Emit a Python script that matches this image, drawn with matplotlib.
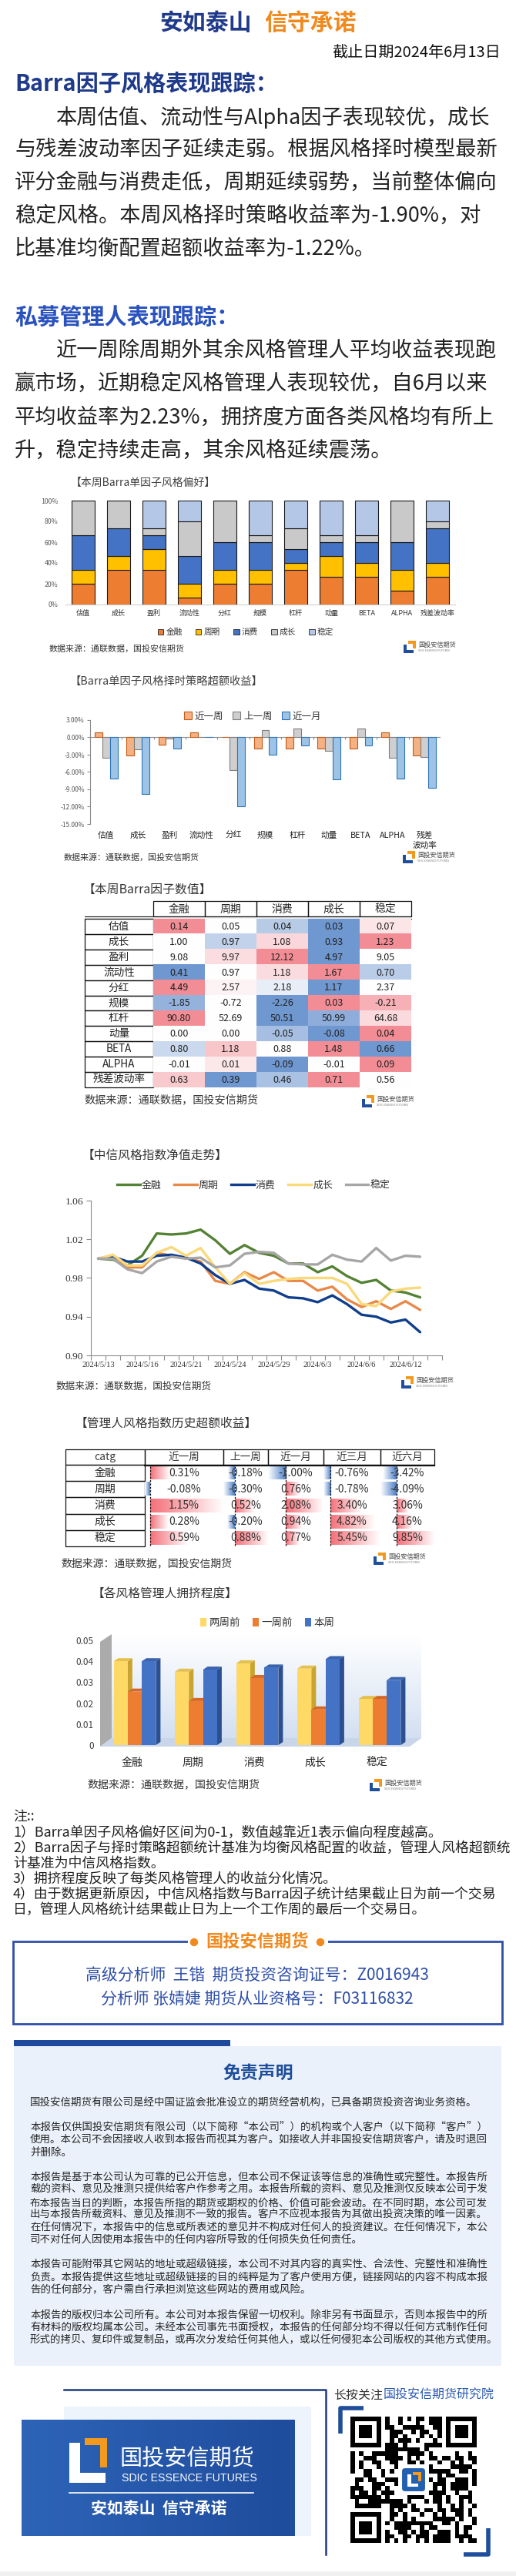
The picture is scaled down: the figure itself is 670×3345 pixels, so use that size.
import numpy as np
import matplotlib
matplotlib.use('Agg')
import matplotlib.pyplot as plt
from matplotlib.patches import Rectangle, Polygon, Circle, FancyBboxPatch, Patch
from matplotlib.lines import Line2D
from matplotlib.colors import LinearSegmentedColormap, TwoSlopeNorm

plt.rcParams['font.family'] = ['Noto Sans CJK SC', 'DejaVu Sans']
plt.rcParams['axes.unicode_minus'] = False

# ---------------- data ----------------
factors = ['估值', '成长', '盈利', '流动性', '分红', '规模', '杠杆', '动量', 'BETA', 'ALPHA', '残差波动率']
styles = ['金融', '周期', '消费', '成长', '稳定']

# Barra single factor style preference (%), stacked
pref_fin = [20.0, 33.3, 33.3, 6.7, 20.0, 20.0, 33.3, 26.7, 26.7, 13.3, 26.7]
pref_cyc = [13.3, 13.3, 20.0, 13.3, 13.3, 13.3, 6.7, 20.0, 13.3, 20.0, 13.3]
pref_con = [33.3, 26.7, 13.3, 26.7, 26.7, 26.7, 13.3, 13.3, 20.0, 26.7, 33.3]
pref_gro = [33.4, 26.7, 6.7, 33.3, 40.0, 6.7, 20.0, 6.7, 6.7, 40.0, 6.7]
pref_sta = [0.0, 0.0, 26.7, 20.0, 0.0, 33.3, 26.7, 33.3, 33.3, 0.0, 20.0]

# timing strategy excess return (%)
timing_labels = ['估值', '成长', '盈利', '流动性', '分红', '规模', '杠杆', '动量', 'BETA', 'ALPHA', '残差\n波动率']
ret_week = [0.9, -3.1, -1.3, 0.9, 0.1, -2.0, -2.0, -2.0, -2.0, 0.9, -3.1]
ret_prev_week = [-3.6, -2.1, -0.2, 0.1, -5.7, 1.3, 1.5, -2.4, 1.5, -3.6, -3.4]
ret_month = [-7.1, -9.8, -2.0, 0.1, -12.0, -3.0, -1.4, -7.3, -1.4, -7.1, -8.7]

# Barra factor values this week (rows: factors, cols: styles)
factor_values = [
    [0.14, 0.05, 0.04, 0.03, 0.07],
    [1.00, 0.97, 1.08, 0.93, 1.23],
    [9.08, 9.97, 12.12, 4.97, 9.05],
    [0.41, 0.97, 1.18, 1.67, 0.70],
    [4.49, 2.57, 2.18, 1.17, 2.37],
    [-1.85, -0.72, -2.26, 0.03, -0.21],
    [90.80, 52.69, 50.51, 50.99, 64.68],
    [0.00, 0.00, -0.05, -0.08, 0.04],
    [0.80, 1.18, 0.88, 1.48, 0.66],
    [-0.01, 0.01, -0.09, -0.01, 0.09],
    [0.63, 0.39, 0.46, 0.71, 0.56],
]

# CITIC style index net value
dates = ['2024/5/13', '2024/5/14', '2024/5/15', '2024/5/16', '2024/5/17', '2024/5/20',
         '2024/5/21', '2024/5/22', '2024/5/23', '2024/5/24', '2024/5/27', '2024/5/28',
         '2024/5/29', '2024/5/30', '2024/5/31', '2024/6/3', '2024/6/4', '2024/6/5',
         '2024/6/6', '2024/6/7', '2024/6/11', '2024/6/12', '2024/6/13']
nav_fin = [1.000, 0.999, 0.993, 1.003, 1.026, 1.025, 1.026, 1.030, 1.019, 1.005, 1.014, 1.006,
           1.003, 0.995, 0.995, 0.986, 0.992, 0.982, 0.975, 0.978, 0.967, 0.965, 0.960]
nav_cyc = [1.000, 1.003, 0.991, 0.991, 1.006, 1.003, 1.001, 0.997, 0.977, 0.974, 0.986, 0.979,
           0.986, 0.977, 0.977, 0.967, 0.971, 0.958, 0.950, 0.956, 0.948, 0.956, 0.947]
nav_con = [1.000, 1.002, 0.997, 0.997, 1.003, 1.004, 1.001, 0.995, 0.983, 0.974, 0.978, 0.969,
           0.967, 0.960, 0.959, 0.955, 0.962, 0.953, 0.942, 0.940, 0.934, 0.937, 0.924]
nav_gro = [1.000, 1.004, 0.993, 0.993, 1.006, 1.012, 1.003, 1.011, 0.991, 0.974, 0.985, 0.974,
           0.977, 0.979, 0.980, 0.980, 0.980, 0.974, 0.953, 0.951, 0.966, 0.969, 0.970]
nav_sta = [1.000, 1.000, 0.989, 0.985, 0.997, 1.002, 1.000, 1.001, 0.991, 0.993, 1.005, 1.007,
           1.006, 0.995, 0.994, 0.994, 1.004, 0.999, 0.997, 1.011, 0.998, 1.003, 1.002]

# manager style index excess return (%)
periods = ['近一周', '上一周', '近一月', '近三月', '近六月']
mgr_excess = [
    [0.31, -0.18, -1.00, -0.76, -3.42],
    [-0.08, -0.30, 0.76, -0.78, -4.09],
    [1.15, 0.52, 2.08, 3.40, 3.06],
    [0.28, -0.20, 0.94, 4.82, 4.16],
    [0.59, 0.88, 0.77, 5.45, 9.85],
]

# crowding
crowd_2w = [0.040, 0.035, 0.039, 0.0365, 0.022]
crowd_1w = [0.0255, 0.021, 0.032, 0.017, 0.022]
crowd_now = [0.040, 0.036, 0.037, 0.041, 0.031]

# ---------------- figure ----------------
W, H = 670, 3345
fig = plt.figure(figsize=(W / 100, H / 100), dpi=100)
fig.patch.set_facecolor('white')
canvas = fig.add_axes([0, 0, 1, 1], zorder=0)
canvas.set_axis_off()

DARK_BLUE = '#1e3a8a'
ORANGE = '#f08a1e'
TXT = '#222222'


def ax_px(x0, y0, x1, y1):
    a = fig.add_axes([x0 / W, 1 - y1 / H, (x1 - x0) / W, (y1 - y0) / H], zorder=2)
    a.set_facecolor('none')
    return a


def T(x, y, s, size, color=TXT, ha='left', va='center', weight='normal', **kw):
    return canvas.text(x, y, s, fontsize=size, color=color, ha=ha, va=va,
                       fontweight=weight, **kw)


def small_logo(x0, yc, s=1.0):
    a = 16 * s
    top = yc - a / 2
    blue, orange = '#1f4e9a', '#f39a1e'
    canvas.add_patch(Rectangle((x0, top + 0.3 * a), 0.28 * a, 0.7 * a, color=blue, lw=0))
    canvas.add_patch(Rectangle((x0, top + 0.74 * a), 0.8 * a, 0.26 * a, color=blue, lw=0))
    canvas.add_patch(Rectangle((x0 + 0.35 * a, top), 0.65 * a, 0.22 * a, color=orange, lw=0))
    canvas.add_patch(Rectangle((x0 + 0.78 * a, top), 0.22 * a, 0.6 * a, color=orange, lw=0))
    T(x0 + a + 3, yc - 2.5, '国投安信期货', 5.9, '#4a4a4a')
    T(x0 + a + 3, yc + 5, 'SDIC ESSENCE FUTURES', 2.6, '#777777')


def fleg(handles, labels, x, y, size, **kw):
    lg = fig.legend(handles, labels, loc='center', bbox_to_anchor=(x / W, 1 - y / H),
                    ncol=len(labels), frameon=False, fontsize=size, **kw)
    for t in lg.get_texts():
        t.set_color('#333333')
    return lg


# ---------------- header & text ----------------
T(327, 30, '安如泰山', 21.5, '#1f3a8a', ha='right', weight='bold')
T(343, 30, '信守承诺', 21.5, ORANGE, weight='bold')
T(650, 68, '截止日期2024年6月13日', 14.5, '#111111', ha='right')
T(19, 109, 'Barra因子风格表现跟踪：', 21, DARK_BLUE, weight='bold')

para1 = ['本周估值、流动性与Alpha因子表现较优，成长',
         '与残差波动率因子延续走弱。根据风格择时模型最新',
         '评分金融与消费走低，周期延续弱势，当前整体偏向',
         '稳定风格。本周风格择时策略收益率为-1.90%，对',
         '比基准均衡配置超额收益率为-1.22%。']
for i, (line, y) in enumerate(zip(para1, [152, 194, 237, 280, 323])):
    T(73 if i == 0 else 19, y, line, 19.6)

T(19, 412, '私募管理人表现跟踪：', 21, '#2a52be', weight='bold')
para2 = ['近一周除周期外其余风格管理人平均收益表现跑',
         '赢市场，近期稳定风格管理人表现较优，自6月以来',
         '平均收益率为2.23%，拥挤度方面各类风格均有所上',
         '升，稳定持续走高，其余风格延续震荡。']
for i, (line, y) in enumerate(zip(para2, [455, 498, 542, 585])):
    T(73 if i == 0 else 19, y, line, 19.6)

# ---------------- chart 1: stacked preference ----------------
T(92, 627, '【本周Barra单因子风格偏好】', 10, '#404040')
ax1 = ax_px(85, 650, 591, 785)
pref_cols = ['#ED7D31', '#FFC000', '#4472C4', '#C9C9C9', '#B4C7E7']
x = np.arange(len(factors))
bottom = np.zeros(len(factors))
for vals, col in zip([pref_fin, pref_cyc, pref_con, pref_gro, pref_sta], pref_cols):
    ax1.bar(x, vals, 0.65, bottom=bottom, color=col, edgecolor='#1a1a1a', linewidth=0.8)
    bottom += np.array(vals)
ax1.set_ylim(0, 100)
ax1.set_xlim(-0.5, len(factors) - 0.5)
ax1.set_yticks(range(0, 101, 20))
ax1.set_yticklabels([f'{v}%' for v in range(0, 101, 20)])
ax1.set_xticks(x)
ax1.set_xticklabels(factors)
ax1.tick_params(axis='y', length=0, pad=7, labelsize=6.3, labelcolor='#595959')
ax1.tick_params(axis='x', length=0, pad=5, labelsize=6.5, labelcolor='#333333')
for s in ['top', 'right', 'left']:
    ax1.spines[s].set_visible(False)
ax1.spines['bottom'].set_color('#d0d0d0')
fleg([Patch(facecolor=c, edgecolor='#222222', lw=0.6) for c in pref_cols], styles,
     319, 821, 7.7, handlelength=0.7, handleheight=0.7, handletextpad=0.3, columnspacing=1.6)
T(64, 843, '数据来源：通联数据，国投安信期货', 7.9, '#333333')
small_logo(524, 840)

# ---------------- chart 2: timing excess ----------------
T(90, 885, '【Barra单因子风格择时策略超额收益】', 10.3, '#404040')
ax2 = ax_px(117, 935, 572, 1070)
xt = np.arange(len(timing_labels))
bw = 0.24
tcols = [('#F4B183', '#C55A11'), ('#D0CECE', '#7F7F7F'), ('#9DC3E6', '#2E75B6')]
for k, (vals, (fc, ec)) in enumerate(zip([ret_week, ret_prev_week, ret_month], tcols)):
    ax2.bar(xt + (k - 1) * bw, vals, bw, color=fc, edgecolor=ec, linewidth=0.8, zorder=3)
ax2.axhline(0, color='#8c8c8c', lw=0.8, zorder=2)
ax2.vlines(np.arange(len(timing_labels) + 1) - 0.5, -0.35, 0, color='#8c8c8c', lw=0.8)
ax2.set_ylim(-15, 3)
ax2.set_xlim(-0.5, len(timing_labels) - 0.5)
ax2.set_yticks(np.arange(-15, 3.1, 3))
ax2.set_yticklabels([f'{v:.2f}%' for v in np.arange(-15, 3.1, 3)])
ax2.set_xticks(xt)
ax2.set_xticklabels(timing_labels, va='top', linespacing=1.4)
ax2.tick_params(axis='y', length=3, width=0.8, color='#8c8c8c', pad=2, labelsize=6,
                labelcolor='#595959')
ax2.tick_params(axis='x', length=0, pad=7, labelsize=7.7, labelcolor='#222222')
for s in ['top', 'right', 'bottom']:
    ax2.spines[s].set_visible(False)
ax2.spines['left'].set_color('#8c8c8c')
fleg([Patch(facecolor=fc, edgecolor=ec, lw=0.8) for fc, ec in tcols], ['近一周', '上一周', '近一月'],
     328, 930, 9, handlelength=0.8, handleheight=0.8, handletextpad=0.3, columnspacing=1.0)
T(83, 1114, '数据来源：通联数据，国投安信期货', 7.9, '#333333')
small_logo(523, 1113)

# ---------------- table 1: factor values heatmap ----------------
T(107, 1155, '【本周Barra因子数值】', 11.4, '#333333')
col_edges = np.linspace(199, 534, 6)
for j, name in enumerate(styles):
    canvas.add_patch(Rectangle((col_edges[j], 1170), col_edges[j + 1] - col_edges[j], 20,
                               fill=False, edgecolor='#111111', lw=0.9))
    T((col_edges[j] + col_edges[j + 1]) / 2, 1180.5, name, 10, '#222222', ha='center')
canvas.plot([110, 534], [1190.5, 1190.5], color='#111111', lw=0.8)
canvas.plot([110, 534], [1193, 1193], color='#111111', lw=0.8)

hm_cmap = LinearSegmentedColormap.from_list('xl3', ['#6F97D0', '#FFFFFF', '#F28D95'])
vals = np.array(factor_values)
rgb = np.zeros(vals.shape + (4,))
for i, row in enumerate(vals):
    med = np.median(row)
    lo, hi = row.min(), row.max()
    if lo < med < hi:
        norm = TwoSlopeNorm(vcenter=med, vmin=lo, vmax=hi)
    else:
        norm = plt.Normalize(lo, hi)
    rgb[i] = hm_cmap(norm(row))
ax_t = ax_px(199, 1193, 534, 1412)
ax_t.imshow(rgb, aspect='auto', extent=(0, 5, len(factors), 0), interpolation='nearest')
for i in range(vals.shape[0]):
    for j in range(vals.shape[1]):
        ax_t.text(j + 0.5, i + 0.52, f'{vals[i, j]:.2f}', ha='center', va='center',
                  fontsize=9, color='#222222')
ax_t.set_xlim(0, 5)
ax_t.set_ylim(len(factors), 0)
ax_t.set_axis_off()
rh = (1412 - 1193) / len(factors)
for i, name in enumerate(factors):
    canvas.add_patch(Rectangle((110, 1193 + i * rh), 89, rh, fill=False,
                               edgecolor='#111111', lw=0.9))
    T(154.5, 1193 + (i + 0.5) * rh, name, 9.8, '#222222', ha='center')
T(109, 1429, '数据来源：通联数据，国投安信期货', 10.2, '#333333')
small_logo(470, 1430)

# ---------------- chart 4: CITIC style NAV ----------------
T(107, 1500, '【中信风格指数净值走势】', 11.3, '#333333')
ax4 = ax_px(118, 1559, 574, 1760)
nav_cols = ['#548235', '#E8894A', '#0F3E8C', '#FAD97A', '#A6A6A6']
xd = np.arange(len(dates))
for vals_, col in zip([nav_fin, nav_cyc, nav_con, nav_gro, nav_sta], nav_cols):
    ax4.plot(xd, vals_, color=col, lw=2.4, solid_joinstyle='round', solid_capstyle='round')
ax4.set_ylim(0.90, 1.06)
ax4.set_xlim(-0.5, len(dates) + 0.5)
ax4.set_yticks([0.90, 0.94, 0.98, 1.02, 1.06])
ax4.set_yticklabels([f'{v:.2f}' for v in [0.90, 0.94, 0.98, 1.02, 1.06]],
                    fontfamily='Liberation Serif')
ax4.set_xticks(np.arange(len(dates) + 2) - 0.5)
ax4.set_xticklabels([])
ax4.set_xticks(xd[::3], minor=True)
ax4.set_xticklabels(dates[::3], minor=True, fontfamily='Liberation Serif')
ax4.tick_params(axis='y', length=4, color='#8c8c8c', pad=3, labelsize=9.7, labelcolor='#333333')
ax4.tick_params(axis='x', which='major', length=4, color='#8c8c8c')
ax4.tick_params(axis='x', which='minor', length=0, pad=6, labelsize=7.6, labelcolor='#333333')
for s in ['top', 'right']:
    ax4.spines[s].set_visible(False)
for s in ['left', 'bottom']:
    ax4.spines[s].set_color('#8c8c8c')
fleg([Line2D([], [], color=c, lw=2.4) for c in nav_cols], styles, 329, 1539, 9.3,
     handlelength=2.3, handletextpad=0.15, columnspacing=1.3)
T(73, 1800, '数据来源：通联数据，国投安信期货', 9.1, '#333333')
small_logo(521, 1795)

# ---------------- table 2: manager excess data bars ----------------
T(98, 1848, '【管理人风格指数历史超额收益】', 11.3, '#333333')
t2_cols = [85, 188, 290, 348, 420, 494, 564]
t2_top, t2_head, t2_bot = 1882, 1902, 2008
for j in range(6):
    canvas.add_patch(Rectangle((t2_cols[j], t2_top), t2_cols[j + 1] - t2_cols[j], t2_head - t2_top,
                               fill=False, edgecolor='#111111', lw=0.9))
T((t2_cols[0] + t2_cols[1]) / 2, 1892, 'catg', 10, '#404040', ha='center')
for j, p in enumerate(periods):
    T((t2_cols[j + 1] + t2_cols[j + 2]) / 2, 1892, p, 9.8, '#333333', ha='center')
canvas.plot([t2_cols[1], t2_cols[-1]], [t2_head + 1, t2_head + 1], color='#111111', lw=1.6)
rh2 = (t2_bot - t2_head) / len(styles)
mg = np.array(mgr_excess)
for i, name in enumerate(styles):
    canvas.add_patch(Rectangle((t2_cols[0], t2_head + i * rh2), t2_cols[1] - t2_cols[0], rh2,
                               fill=False, edgecolor='#111111', lw=0.9))
    T((t2_cols[0] + t2_cols[1]) / 2, t2_head + (i + 0.5) * rh2, name, 10, '#222222', ha='center')
red_grad = LinearSegmentedColormap.from_list('rg', ['#F5707A', '#FFFFFF'])
blue_grad = LinearSegmentedColormap.from_list('bg', ['#4C7FC8', '#FFFFFF'])
grad = np.linspace(0, 1, 64)[None, :]
for j in range(len(periods)):
    c0, c1 = t2_cols[j + 1], t2_cols[j + 2]
    col = mg[:, j]
    lo, hi = min(0, col.min()), max(0, col.max())
    scale = (c1 - c0) / (hi - lo)
    axis_x = c0 + (0 - lo) * scale
    for i, v in enumerate(col):
        yt = t2_head + i * rh2 + 2
        yb = t2_head + (i + 1) * rh2 - 2
        end = axis_x + v * scale
        canvas.imshow(grad, cmap=red_grad if v >= 0 else blue_grad, aspect='auto',
                      extent=(axis_x, end, yb, yt), zorder=1, interpolation='bilinear')
        T((c0 + c1) / 2, t2_head + (i + 0.5) * rh2, f'{v:.2f}%', 10, '#333333', ha='center',
          zorder=3)
    canvas.plot([axis_x, axis_x], [t2_head + 2, t2_bot], color='#111111', lw=0.9,
                ls=(0, (2, 1.5)), zorder=2)
T(79, 2030, '数据来源：通联数据，国投安信期货', 10, '#333333')
small_logo(485, 2024)

# ---------------- chart 5: crowding (3D style bars) ----------------
T(120, 2070, '【各风格管理人拥挤程度】', 11.3, '#333333')
ax3 = ax_px(130, 2115, 560, 2272)
step, xc0, y0px, pxu = 79.5, 171, 2266, 2720.0
ax3.set_xlim((130 - xc0) / step, (560 - xc0) / step)
ax3.set_ylim((y0px - 2272) / pxu, (y0px - 2115) / pxu)
wall_l, wall_r = (145 - xc0) / step, (547 - xc0) / step
wall_b, wall_t = (y0px - 2257) / pxu, (y0px - 2122) / pxu
left_x = (130 - xc0) / step
front_b, left_top = (y0px - 2268) / pxu, (y0px - 2132) / pxu
wall_cmap = LinearSegmentedColormap.from_list('wall', ['#ffffff', '#d3e0f2'])
ax3.imshow(np.linspace(0, 1, 64)[:, None], cmap=wall_cmap, aspect='auto',
           extent=(wall_l, wall_r, wall_b, wall_t), zorder=0)
ax3.add_patch(Polygon([(left_x, front_b), (wall_l, wall_b), (wall_l, wall_t), (left_x, left_top)],
                      closed=True, color='#ababab', lw=0, zorder=1))
ax3.add_patch(Polygon([(left_x, front_b), (wall_l, wall_b), (wall_r, wall_b),
                       (wall_r - (wall_l - left_x), front_b)],
                      closed=True, color='#c9d6e9', lw=0, zorder=1))
dx, dy = 6 / step, 4 / pxu
bw3 = 0.23
series3 = [(crowd_2w, '#FFD966', '#C9A431', '#E6C04E'),
           (crowd_1w, '#ED7D31', '#B45A1E', '#D2692A'),
           (crowd_now, '#4472C4', '#2C4F91', '#3A63AC')]
xs = np.arange(len(styles))
for k, (vals_, front, side, top) in enumerate(series3):
    off = (k - 1) * bw3 + 0.05
    z = 10 + k * 2
    for i, v in enumerate(vals_):
        xl = xs[i] + off - bw3 / 2
        xr = xl + bw3
        ax3.add_patch(Polygon([(xr, 0), (xr + dx, dy), (xr + dx, v + dy), (xr, v)],
                              closed=True, color=side, lw=0, zorder=z - 0.5))
        ax3.add_patch(Polygon([(xl, v), (xl + dx, v + dy), (xr + dx, v + dy), (xr, v)],
                              closed=True, color=top, lw=0, zorder=z - 0.5))
    ax3.bar(xs + off, vals_, bw3, color=front, lw=0, zorder=z)
ax3.set_yticks([0, 0.01, 0.02, 0.03, 0.04, 0.05])
ax3.set_yticklabels(['0', '0.01', '0.02', '0.03', '0.04', '0.05'])
ax3.set_xticks(xs)
ax3.set_xticklabels(styles)
ax3.tick_params(axis='y', length=0, pad=6, labelsize=8.5, labelcolor='#404040')
ax3.tick_params(axis='x', length=0, pad=7, labelsize=10, labelcolor='#222222')
for s in ax3.spines.values():
    s.set_visible(False)
fleg([Patch(facecolor=c[1], lw=0) for c in series3], ['两周前', '一周前', '本周'], 347, 2107, 9.7,
     handlelength=0.6, handleheight=0.9, handletextpad=0.25, columnspacing=1.2)
T(113, 2318, '数据来源：通联数据，国投安信期货', 10.1, '#333333')
small_logo(480, 2318)

# ---------------- notes ----------------
notes = ['注::',
         '1）Barra单因子风格偏好区间为0-1，数值越靠近1表示偏向程度越高。',
         '2）Barra因子与择时策略超额统计基准为均衡风格配置的收益，管理人风格超额统',
         '计基准为中信风格指数。',
         '3）拥挤程度反映了每类风格管理人的收益分化情况。',
         '4）由于数据更新原因，中信风格指数与Barra因子统计结果截止日为前一个交易',
         '日，管理人风格统计结果截止日为上一个工作周的最后一个交易日。']
for k, line in enumerate(notes):
    T(17, 2360 + 20 * k, line, 12.9, '#222222')

# ---------------- analyst box ----------------
canvas.add_patch(Rectangle((17, 2521), 635, 107, fill=False, edgecolor='#2f4fa8', lw=2))
canvas.add_patch(Rectangle((244, 2510), 182, 24, color='white', lw=0, zorder=2))
canvas.add_patch(Circle((252, 2522), 4.5, color=ORANGE, zorder=3))
canvas.add_patch(Circle((416, 2522), 4.5, color=ORANGE, zorder=3))
T(334, 2521, '国投安信期货', 16, ORANGE, ha='center', weight='bold', zorder=3)
T(334, 2566, '高级分析师  王锴  期货投资咨询证号：Z0016943', 15, '#2f4fa8', ha='center')
T(334, 2597, '分析师 张婧婕 期货从业资格号：F03116832', 15, '#2f4fa8', ha='center')

# ---------------- disclaimer ----------------
canvas.add_patch(Rectangle((18, 2657), 633, 415, color='#eaf1fa', lw=0))
canvas.add_patch(Rectangle((18, 2649), 281, 8, color='#1d4a9c', lw=0))
T(335, 2692, '免责声明', 16.5, '#1f4e9a', ha='center', weight='bold')
disc = [
    (2730, '国投安信期货有限公司是经中国证监会批准设立的期货经营机构，已具备期货投资咨询业务资格。'),
    (2762, '本报告仅供国投安信期货有限公司（以下简称“本公司”）的机构或个人客户（以下简称“客户”）'),
    (2778, '使用。本公司不会因接收人收到本报告而视其为客户。如接收人并非国投安信期货客户，请及时退回'),
    (2795, '并删除。'),
    (2827, '本报告是基于本公司认为可靠的已公开信息，但本公司不保证该等信息的准确性或完整性。本报告所'),
    (2843, '载的资料、意见及推测只提供给客户作参考之用。本报告所载的资料、意见及推测仅反映本公司于发'),
    (2860, '布本报告当日的判断，本报告所指的期货或期权的价格、价值可能会波动。在不同时期，本公司可发'),
    (2876, '出与本报告所载资料、意见及推测不一致的报告。客户不应视本报告为其做出投资决策的唯一因素。'),
    (2892, '在任何情况下，本报告中的信息或所表述的意见并不构成对任何人的投资建议。在任何情况下，本公'),
    (2908, '司不对任何人因使用本报告中的任何内容所导致的任何损失负任何责任。'),
    (2940, '本报告可能附带其它网站的地址或超级链接，本公司不对其内容的真实性、合法性、完整性和准确性'),
    (2957, '负责。本报告提供这些地址或超级链接的目的纯粹是为了客户使用方便，链接网站的内容不构成本报'),
    (2973, '告的任何部分，客户需自行承担浏览这些网站的费用或风险。'),
    (3006, '本报告的版权归本公司所有。本公司对本报告保留一切权利。除非另有书面显示，否则本报告中的所'),
    (3022, '有材料的版权均属本公司。未经本公司事先书面授权，本报告的任何部分均不得以任何方式制作任何'),
    (3038, '形式的拷贝、复印件或复制品，或再次分发给任何其他人，或以任何侵犯本公司版权的其他方式使用。'),
]
for y, line in disc:
    T(39, y, line, 9.7, '#262626')

# ---------------- footer ----------------
canvas.plot([83, 423, 423], [3103, 3103, 3317], color='#1f3a7a', lw=1.8)
canvas.add_patch(Rectangle((83, 3125), 321, 168, color='#eef4fb', lw=0))
banner_cmap = LinearSegmentedColormap.from_list('ban', ['#2d64b8', '#1f4c9c'])
canvas.imshow(np.linspace(0, 1, 64)[None, :], cmap=banner_cmap, aspect='auto',
              extent=(28, 383, 3293, 3142), zorder=1)
canvas.add_patch(Rectangle((90, 3172), 14, 52, color='white', lw=0, zorder=2))
canvas.add_patch(Rectangle((90, 3211), 47, 13, color='white', lw=0, zorder=2))
canvas.add_patch(Rectangle((110, 3166), 29, 9, color='#f39a1e', lw=0, zorder=2))
canvas.add_patch(Rectangle((130, 3166), 9, 38, color='#f39a1e', lw=0, zorder=2))
T(155, 3194, '国投安信期货', 21, 'white', zorder=3)
T(158, 3218, 'SDIC ESSENCE FUTURES', 10.2, 'white', zorder=3, family='Liberation Sans')
canvas.plot([90, 329], [3237, 3237], color='white', lw=1.2, zorder=3)
T(206, 3258, '安如泰山  信守承诺', 15, 'white', ha='center', weight='bold', zorder=3)

T(433, 3110, '长按关注', 11.5, '#333333')
T(433 + 4 * 16.1, 3110, '国投安信期货研究院', 11.5, '#2b5ab0')

# QR-like block
n = 29
bits = np.unpackbits(np.frombuffer(('长按关注国投安信期货研究院SDIC' * 12).encode('utf-8'),
                                   dtype=np.uint8))[:n * n].reshape(n, n).astype(float)
for r0, c0 in [(0, 0), (0, n - 7), (n - 7, 0)]:
    bits[max(r0 - 1, 0):r0 + 8, max(c0 - 1, 0):c0 + 8] = 0
    bits[r0:r0 + 7, c0:c0 + 7] = 1
    bits[r0 + 1:r0 + 6, c0 + 1:c0 + 6] = 0
    bits[r0 + 2:r0 + 5, c0 + 2:c0 + 5] = 1
bits[11:18, 11:18] = 0
canvas.imshow(bits, cmap='gray_r', vmin=0, vmax=1, aspect='auto', interpolation='nearest',
              extent=(455, 619, 3302, 3138), zorder=1)
canvas.add_patch(FancyBboxPatch((523, 3206), 28, 28, boxstyle='round,pad=2,rounding_size=5',
                                facecolor='#2360b0', edgecolor='white', lw=1.5, zorder=3))
canvas.add_patch(Rectangle((529, 3213), 5, 16, color='white', lw=0, zorder=4))
canvas.add_patch(Rectangle((529, 3225), 14, 4, color='white', lw=0, zorder=4))
canvas.add_patch(Rectangle((536, 3210), 10, 4, color='#f39a1e', lw=0, zorder=4))
canvas.add_patch(Rectangle((543, 3210), 4, 12, color='#f39a1e', lw=0, zorder=4))
canvas.plot([442, 442, 472], [3160, 3127, 3127], color='#1f4e9a', lw=4, solid_capstyle='butt')
canvas.plot([602, 634, 634], [3317, 3317, 3283], color='#1f4e9a', lw=4, solid_capstyle='butt')

canvas.add_patch(Rectangle((0, 3339), W, 6, color='#f0f0f0', lw=0))

canvas.set_xlim(0, W)
canvas.set_ylim(H, 0)

fig.savefig('out.png', dpi=100)
